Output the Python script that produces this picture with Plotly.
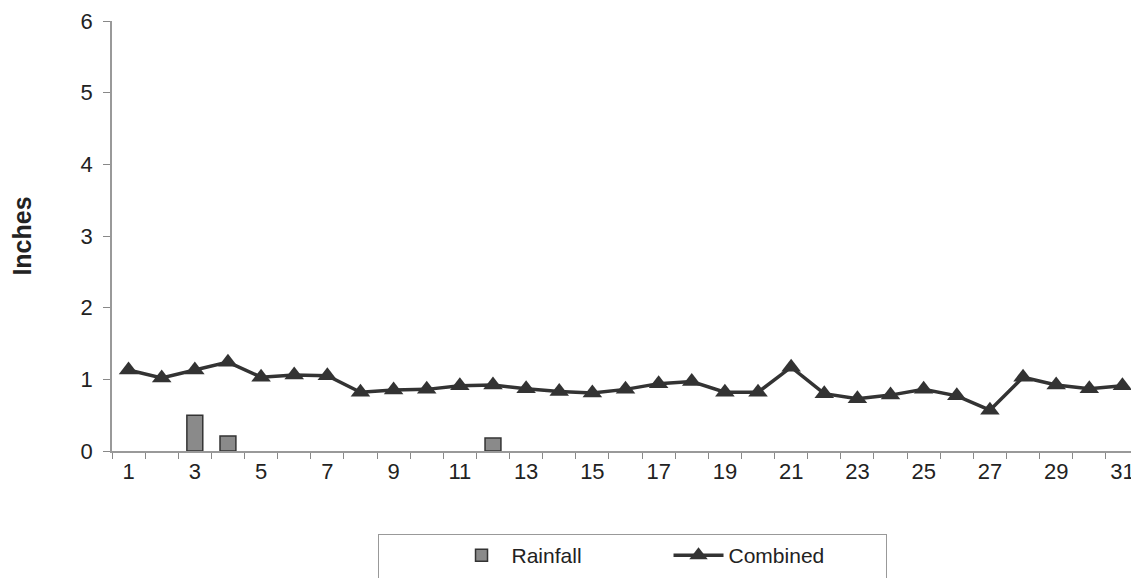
import plotly.graph_objects as go

days = list(range(1, 32))
day_labels = [str(d) if d % 2 == 1 else "" for d in days]

rain_days = [3, 4, 12]
rainfall = [0.50, 0.21, 0.18]

combined = [1.13, 1.02, 1.13, 1.24, 1.03, 1.06, 1.05, 0.82, 0.85, 0.86,
            0.91, 0.92, 0.87, 0.83, 0.81, 0.86, 0.94, 0.97, 0.82, 0.82,
            1.17, 0.80, 0.73, 0.78, 0.86, 0.77, 0.57, 1.03, 0.92, 0.87, 0.91]

y_ticks = [0, 1, 2, 3, 4, 5, 6]

font_family = "Liberation Sans, Arial, sans-serif"

fig = go.Figure()
fig.add_trace(go.Bar(
    x=[str(d) for d in rain_days], y=rainfall, name="Rainfall",
    marker=dict(color="#8a8a8a", line=dict(color="#333333", width=1.5)),
    width=0.48,
))
fig.add_trace(go.Scatter(
    x=[str(d) for d in days], y=combined, name="Combined",
    mode="lines+markers",
    line=dict(color="#333333", width=3.5),
    marker=dict(symbol="triangle-up", size=17, color="#333333"),
))

L, R, T, B = 104, 8, 13, 134
plot_w = 1139 - L - R
plot_h = 578 - T - B

fig.update_layout(
    width=1139, height=578,
    paper_bgcolor="white", plot_bgcolor="white",
    margin=dict(l=L, r=R, t=T, b=B),
    font=dict(family=font_family, color="#222222", size=22),
    showlegend=True,
    legend=dict(
        orientation="h", x=(370 - L) / plot_w, y=-82 / plot_h,
        xanchor="left", yanchor="top",
        bordercolor="#999999", borderwidth=1,
        font=dict(size=21), entrywidth=152, entrywidthmode="pixels",
        itemwidth=50, traceorder="normal",
        title=dict(text="&nbsp;" * 9, side="left"),
    ),
    xaxis=dict(
        type="category", categoryorder="array", categoryarray=[str(d) for d in days],
        tickmode="array", tickvals=[str(d) for d in days], ticktext=day_labels,
        tickson="boundaries", ticks="outside", ticklen=6, tickcolor="#888888",
        tickangle=0, automargin=False,
        showline=True, linecolor="#999999", linewidth=1.5,
        showgrid=False, zeroline=False, range=[-0.5, 30.5],
        tickfont=dict(size=22),
    ),
    yaxis=dict(
        range=[0, 6], tickmode="array", tickvals=y_ticks,
        ticks="outside", ticklen=7, tickcolor="#888888",
        automargin=False, ticklabelstandoff=6,
        showline=True, linecolor="#999999", linewidth=1.5,
        showgrid=False, zeroline=False,
        title=dict(text="<b>Inches</b>", font=dict(size=25), standoff=42),
        tickfont=dict(size=22),
    ),
    bargap=0.5,
)

fig.write_html("out.html")
